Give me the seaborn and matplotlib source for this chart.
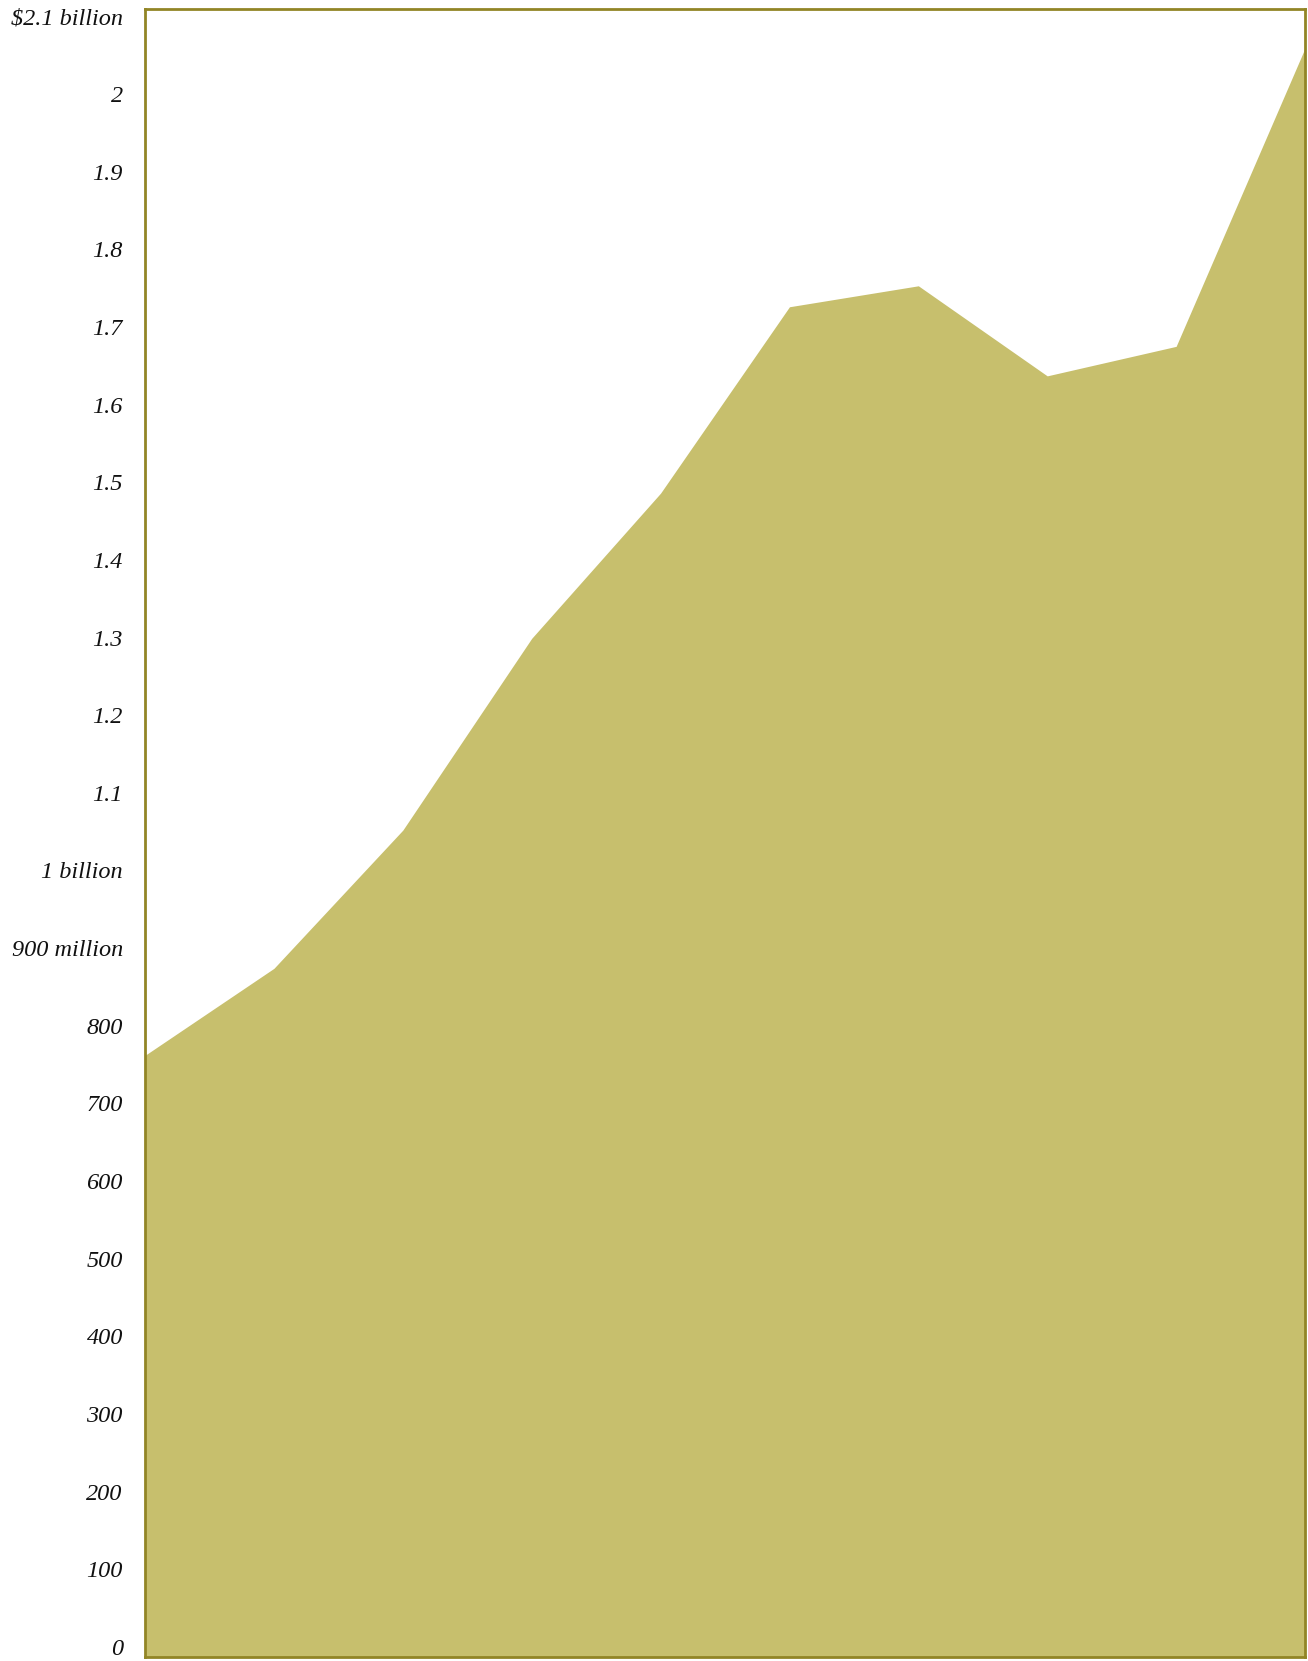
import numpy as np
import matplotlib
matplotlib.use("Agg")
import matplotlib.pyplot as plt
import seaborn as sns
import pandas as pd

# valores (bilhões de dólares), 10 pontos igualmente espaçados
periodo = list(range(10))
valor = [0.762, 0.874, 1.052, 1.299, 1.486, 1.726, 1.753, 1.637, 1.675, 2.059]

tick_vals = [0, 0.1, 0.2, 0.3, 0.4, 0.5, 0.6, 0.7, 0.8, 0.9, 1.0,
             1.1, 1.2, 1.3, 1.4, 1.5, 1.6, 1.7, 1.8, 1.9, 2.0, 2.1]
tick_labels = ["0", "100", "200", "300", "400", "500", "600", "700", "800",
               "900 million", "1 billion", "1.1", "1.2", "1.3", "1.4", "1.5",
               "1.6", "1.7", "1.8", "1.9", "2", "$2.1 billion"]

df = pd.DataFrame({"periodo": periodo, "valor": valor})

sns.set_style("white")
plt.rcParams["font.family"] = ["Liberation Serif", "DejaVu Serif"]

fill_color = "#c7bf6d"
border_color = "#928526"

fig = plt.figure(figsize=(13.08, 16.61), dpi=100)
ax = fig.add_axes([0.1109, 0.0024, 0.8868, 0.9922])

ax.set_xlim(df["periodo"].min(), df["periodo"].max())
ax.set_ylim(-0.0129, 2.1095)
y_base = ax.get_ylim()[0]

ax.fill_between(df["periodo"], df["valor"], y_base, color=fill_color, linewidth=0)

# -------------------
# Eixos
# -------------------
ax.set_xticks([])
ax.set_yticks(tick_vals)
ax.set_yticklabels(tick_labels, fontstyle="italic", fontsize=17.5, color="#111111")
ax.tick_params(axis="y", length=0, pad=16)
ax.set_xlabel("")
ax.set_ylabel("")

for side in ["left", "right", "top", "bottom"]:
    ax.spines[side].set_visible(True)
    ax.spines[side].set_color(border_color)
    ax.spines[side].set_linewidth(2)

fig.savefig("out.png", dpi=100)
